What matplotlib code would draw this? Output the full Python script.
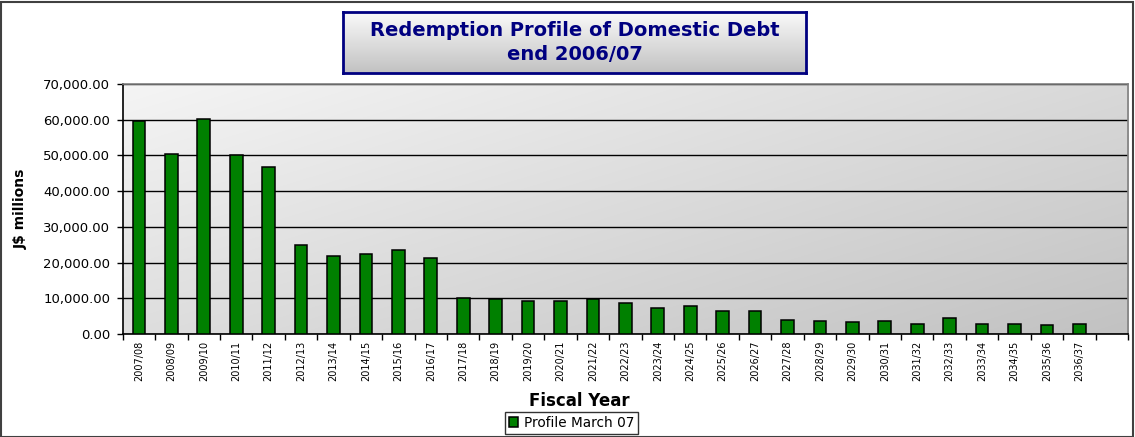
import matplotlib
matplotlib.use("Agg")
import matplotlib.pyplot as plt
import numpy as np
from matplotlib.patches import Rectangle
from matplotlib.ticker import FuncFormatter, MultipleLocator

# Data (J$ millions)
fiscal_years = ["2007/08", "2008/09", "2009/10", "2010/11", "2011/12", "2012/13",
                "2013/14", "2014/15", "2015/16", "2016/17", "2017/18", "2018/19",
                "2019/20", "2020/21", "2021/22", "2022/23", "2023/24", "2024/25",
                "2025/26", "2026/27", "2027/28", "2028/29", "2029/30", "2030/31",
                "2031/32", "2032/33", "2033/34", "2034/35", "2035/36", "2036/37"]
profile_march_07 = [59700, 50500, 60300, 50000, 46800, 24800,
                    21900, 22500, 23400, 21400, 10000, 9700,
                    9200, 9200, 9900, 8800, 7300, 7700,
                    6500, 6500, 3900, 3600, 3300, 3600,
                    2700, 4500, 2700, 2700, 2400, 2700]

plt.rcParams['font.family'] = ['DejaVu Sans']

fig = plt.figure(figsize=(11.35, 4.37), dpi=100)
fig.patch.set_facecolor("white")

# outer frame of the chart
fig.patches.append(Rectangle((0.001, 0.001), 0.997, 0.995, transform=fig.transFigure,
                             fill=False, edgecolor="#404040", linewidth=1.5))

ax = fig.add_axes([0.1081, 0.2357, 0.8857, 0.5721])

# diagonal gray gradient in the plot area (light top-left, darker bottom-right)
gx, gy = np.meshgrid(np.linspace(0, 1, 300), np.linspace(0, 1, 300))
shade = 0.96 - 0.20 * (0.55 * gx + 0.45 * gy)
bg = np.dstack([shade, shade, shade])
ax.imshow(bg, extent=(0, 1, 0, 1), transform=ax.transAxes,
          aspect="auto", zorder=0, interpolation="bilinear")

n_slots = len(fiscal_years) + 1   # one empty slot at the right end
x = np.arange(len(fiscal_years))
ax.bar(x, profile_march_07, width=0.39, color="#008000", edgecolor="black",
       linewidth=1.1, zorder=3, label="Profile March 07")

ax.set_xlim(-0.5, n_slots - 0.5)
ax.set_ylim(0, 70000)
ax.yaxis.set_major_locator(MultipleLocator(10000))
ax.yaxis.set_major_formatter(FuncFormatter(lambda v, p: f"{v:,.2f}"))
ax.grid(axis="y", color="black", linewidth=1.0, zorder=1)

ax.set_xticks(x)
ax.set_xticklabels(fiscal_years, rotation=90, fontsize=7)
ax.set_xticks(np.arange(n_slots + 1) - 0.5, minor=True)
ax.tick_params(axis="x", which="major", length=0, pad=5)
ax.tick_params(axis="x", which="minor", length=4, width=1, color="black")
ax.tick_params(axis="y", length=4, width=1, labelsize=9.5, pad=5)

for side in ["top", "right"]:
    ax.spines[side].set_color("#808080")
    ax.spines[side].set_linewidth(1.2)
for side in ["left", "bottom"]:
    ax.spines[side].set_color("black")
    ax.spines[side].set_linewidth(1.2)

ax.set_ylabel("J$ millions", fontsize=10, fontweight="bold")
ax.yaxis.set_label_coords(-0.094, 0.5)

fig.text(0.5106, 0.082, "Fiscal Year", ha="center", va="center",
         fontsize=12, fontweight="bold")

# title box with vertical gradient
tx0, ty0, tw, th = 343 / 1135, 1 - 73 / 437, 463 / 1135, 61 / 437
tax = fig.add_axes([tx0, ty0, tw, th])
tshade = np.linspace(0.98, 0.76, 100).reshape(-1, 1)
tax.imshow(np.dstack([tshade, tshade, tshade]), extent=(0, 1, 0, 1),
           aspect="auto", interpolation="bilinear")
tax.set_xticks([])
tax.set_yticks([])
for s in tax.spines.values():
    s.set_color("#000080")
    s.set_linewidth(2)
tax.text(0.5, 0.5, "Redemption Profile of Domestic Debt\nend 2006/07",
         transform=tax.transAxes, ha="center", va="center", color="#000080",
         fontsize=14, fontweight="bold", linespacing=1.3)

leg = fig.legend(loc="center", bbox_to_anchor=(0.5035, 0.032), fontsize=9.8,
                 frameon=True, fancybox=False, edgecolor="black",
                 handlelength=0.7, handleheight=0.7, handletextpad=0.4,
                 borderpad=0.3)
leg.get_frame().set_linewidth(1.0)

fig.savefig("out.png", dpi=100)
